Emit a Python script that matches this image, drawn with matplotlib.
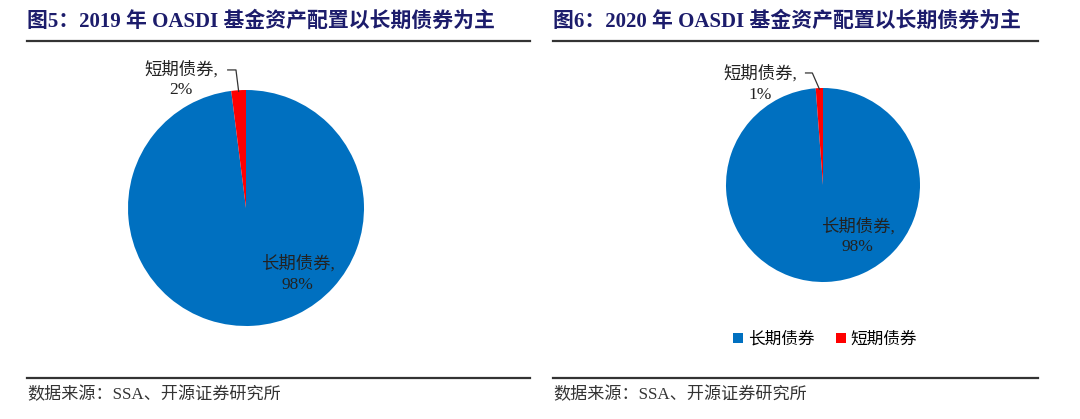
import matplotlib.pyplot as plt
import numpy as np
from matplotlib.patches import Patch

plt.rcParams['font.family'] = ['Liberation Serif', 'Noto Sans CJK SC', 'DejaVu Sans']

# data
categories = ['长期债券', '短期债券']
titles = ['图5：2019 年 OASDI 基金资产配置以长期债券为主',
          '图6：2020 年 OASDI 基金资产配置以长期债券为主']
shares_2019 = [98.0, 2.0]
shares_2020 = [98.8, 1.2]
labels_2019 = ['98%', '2%']
labels_2020 = ['98%', '1%']
source = '数据来源：SSA、开源证券研究所'

colors = ['#0070C0', '#FF0000']
title_color = '#1C1C6B'
W, H = 1080, 419

fig = plt.figure(figsize=(W / 100, H / 100), dpi=100)


def fx(px):
    return px / W


def fy(py):
    return 1 - py / H


def draw_panel(x0, x1, title, shares, labels, cx, cy, r, long_pos, short_pos, elbow):
    fig.text(fx(x0), fy(22), title, fontsize=15, fontweight='bold',
             color=title_color, va='center', ha='left')
    fig.add_artist(plt.Line2D([fx(x0), fx(x1)], [fy(41), fy(41)], color='#333333', lw=1.6))
    fig.add_artist(plt.Line2D([fx(x0), fx(x1)], [fy(378), fy(378)], color='#333333', lw=1.6))
    fig.text(fx(x0), fy(395), source, fontsize=12.3, color='#333333', va='center', ha='left')

    ax = fig.add_axes([fx(cx - r), fy(cy + r), (2 * r) / W, (2 * r) / H])
    wedges, _ = ax.pie(shares, colors=colors, startangle=90, counterclock=False,
                       radius=1, wedgeprops=dict(linewidth=0))
    ax.set_xlim(-1, 1)
    ax.set_ylim(-1, 1)
    ax.axis('off')

    ax.text(long_pos[0], long_pos[1], f'{categories[0]},\n{labels[0]}', ha='center', va='center',
            fontsize=12.5, color='#222222', linespacing=1.3, clip_on=False)
    ax.text(short_pos[0], short_pos[1], f'{categories[1]},\n{labels[1]}', ha='center', va='center',
            fontsize=12.5, color='#222222', linespacing=1.3, clip_on=False)

    w = wedges[1]
    mid = np.deg2rad((w.theta1 + w.theta2) / 2)
    ex, ey = np.cos(mid) * 0.99, np.sin(mid) * 0.99
    ax.plot([elbow[0] - 0.07, elbow[0], ex], [elbow[1], elbow[1], ey],
            color='#333333', lw=0.9, clip_on=False)
    return ax


draw_panel(27, 530, titles[0], shares_2019, labels_2019, 246, 208, 118,
           (0.44, -0.56), (-0.55, 1.09), (-0.085, 1.17))
draw_panel(553, 1038, titles[1], shares_2020, labels_2020, 823, 185, 97,
           (0.36, -0.53), (-0.65, 1.04), (-0.11, 1.155))

handles = [Patch(facecolor=c, edgecolor='none') for c in colors]
fig.legend(handles, categories, loc='center', bbox_to_anchor=(fx(825), fy(340)), ncol=2,
           frameon=False, fontsize=12, handlelength=0.6, handleheight=0.6,
           handletextpad=0.3, columnspacing=1.3)

fig.savefig('out.png', dpi=100)
